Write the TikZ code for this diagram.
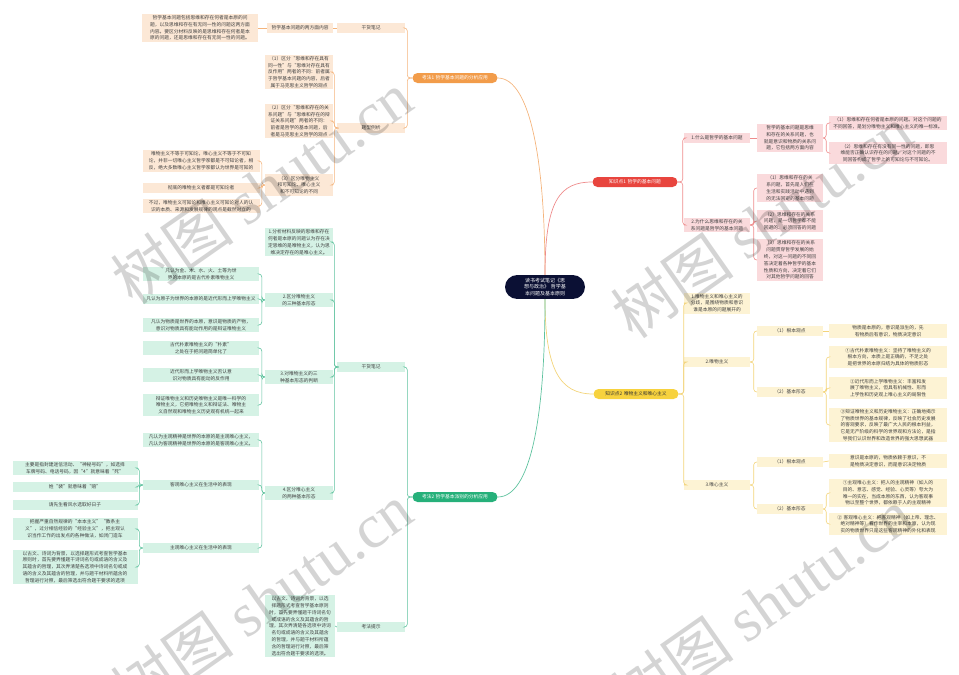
\documentclass[tikz,border=0pt]{standalone}
\usepackage{fontspec}
\setmainfont{Noto Sans CJK SC}
\newfontfamily\wmfont{Liberation Serif}
\XeTeXlinebreaklocale "zh"
\XeTeXlinebreakskip = 0pt

\definecolor{rootfill}{HTML}{0B1034}
\definecolor{orgfill}{HTML}{F29C4A}
\definecolor{orgleaf}{HTML}{FCE8D6}
\definecolor{orgline}{HTML}{F4B47C}
\definecolor{redfill}{HTML}{E8453E}
\definecolor{redleaf}{HTML}{FADADC}
\definecolor{redline}{HTML}{EE8C8C}
\definecolor{yelfill}{HTML}{F7D23E}
\definecolor{yelleaf}{HTML}{FDF3D4}
\definecolor{yelline}{HTML}{F3D47A}
\definecolor{grnfill}{HTML}{26B07A}
\definecolor{grnleaf}{HTML}{D5F2E5}
\definecolor{grnline}{HTML}{5EC29E}

\tikzset{
  leaf/.style={inner xsep=2.5pt, inner ysep=1.5pt, align=center, minimum height=10pt,
    font=\fontsize{4.75}{6.8}\selectfont, text=black!75},
  oleaf/.style={leaf, fill=orgleaf, text width=#1},
  rleaf/.style={leaf, fill=redleaf, text width=#1},
  yleaf/.style={leaf, fill=yelleaf, text width=#1},
  gleaf/.style={leaf, fill=grnleaf, text width=#1},
  topic/.style={leaf, rounded corners=5pt, text width=80pt, text=white},
  oline/.style={draw=orgline, line width=0.6pt, rounded corners=3pt},
  rline/.style={draw=redline, line width=0.6pt, rounded corners=3pt},
  yline/.style={draw=yelline, line width=0.6pt, rounded corners=3pt},
  gline/.style={draw=grnline, line width=0.6pt, rounded corners=3pt},
  wm/.style={text=black, text opacity=0.17, font=\fontsize{62}{62}\selectfont, rotate=35}
}

\begin{document}
\begin{tikzpicture}[x=1pt,y=-1pt]
\useasboundingbox (0,0) rectangle (959,675);

% centre
\node[fill=rootfill, rounded corners=12pt, text=white, align=center, text width=58pt,
  inner xsep=11pt, inner ysep=3pt, font=\fontsize{5}{6.6}\selectfont] (root) at (545,287)
  {读书考试笔记《思想与政治》 哲学基本问题及基本原则};

% main topics
\node[topic, fill=orgfill] (kf1) at (455,78) {考法1 哲学基本问题的分析应用};
\node[topic, fill=redfill] (zs1) at (635,182) {知识点1 哲学的基本问题};
\node[topic, fill=yelfill, text=black!80] (zs2) at (636,394) {知识点2 唯物主义和唯心主义};
\node[topic, fill=grnfill] (kf2) at (455,497) {考法2 哲学基本派别的分析应用};

\draw[orgline, line width=0.7pt] (root.north) .. controls (545,160) and (530,78) .. (kf1.east);
\draw[redline, line width=0.7pt] (root.north) .. controls (545,200) and (560,182) .. (zs1.west);
\draw[yelline, line width=0.7pt] (root.south) .. controls (545,370) and (560,394) .. (zs2.west);
\draw[grnline, line width=0.7pt] (root.south) .. controls (545,420) and (530,497) .. (kf2.east);

% 考法1
\node[oleaf=63pt] (o_gh) at (371,28) {干货笔记};
\node[oleaf=61pt] (o_lf) at (300,28) {哲学基本问题的两方面内容};
\node[oleaf=111pt] (o_lft) at (200,28) {哲学基本问题包括思维和存在何者是本原的问题，以及思维和存在有无同一性的问题这两方面内容。要区分材料反映的是思维和存在何者是本原的问题，还是思维和存在有无同一性的问题。};
\node[oleaf=63pt] (o_tx) at (371,128) {题型例析};
\node[oleaf=63pt] (o_t1) at (299,72) {（1）区分“思维和存在具有同一性”与“思维对存在具有反作用”两者的不同：前者属于哲学基本问题的内容，后者属于马克思主义哲学的观点};
\node[oleaf=63pt] (o_t2) at (299,121) {（2）区分“思维和存在的关系问题”与“思维和存在的辩证关系问题”两者的不同：前者是哲学的基本问题，后者是马克思主义哲学的观点};
\node[oleaf=63pt] (o_t3) at (299,185) {（3）区分唯物主义和可知论、唯心主义和不可知论的不同};
\node[oleaf=112pt] (o_t3a) at (201,161) {唯物主义不等于可知论，唯心主义不等于不可知论，并非一切唯心主义哲学家都是不可知论者，相反，绝大多数唯心主义哲学家都认为世界是可知的};
\node[oleaf=112pt] (o_t3b) at (201,188) {彻底的唯物主义者都是可知论者};
\node[oleaf=112pt] (o_t3c) at (201,206) {不过，唯物主义可知论和唯心主义可知论对人的认识的本质、来源和发展规律的观点是截然对立的};

\draw[oline] (kf1.west) -- ++(-5,0) |- (o_gh.east);
\draw[oline] (kf1.west) -- ++(-5,0) |- (o_tx.east);
\draw[oline] (o_gh.west) -- (o_lf.east);
\draw[oline] (o_lf.west) -- (o_lft.east);
\draw[oline] (o_tx.west) -- ++(-2.5,0) |- (o_t1.east);
\draw[oline] (o_tx.west) -- ++(-2.5,0) |- (o_t2.east);
\draw[oline] (o_tx.west) -- ++(-2.5,0) |- (o_t3.east);
\draw[oline] (o_t3.west) -- ++(-3,0) |- (o_t3a.east);
\draw[oline] (o_t3.west) -- ++(-3,0) |- (o_t3b.east);
\draw[oline] (o_t3.west) -- ++(-3,0) |- (o_t3c.east);

% 知识点1
\node[rleaf=61pt] (r1) at (717,138) {1.什么是哲学的基本问题};
\node[rleaf=61pt] (r1a) at (790,138) {哲学的基本问题是思维和存在的关系问题，也就是意识和物质的关系问题，它包括两方面内容};
\node[rleaf=113pt] (r1a1) at (888,123) {（1）思维和存在何者是本原的问题。对这个问题的不同回答，是划分唯物主义和唯心主义的唯一标准。};
\node[rleaf=113pt] (r1a2) at (888,153) {（2）思维和存在有没有同一性的问题，即思维能否正确认识存在的问题。对这个问题的不同回答构成了哲学上的可知论与不可知论。};
\node[rleaf=61pt] (r2) at (717,225) {2.为什么思维和存在的关系问题是哲学的基本问题};
\node[rleaf=61pt] (r2a) at (790,188) {（1）思维和存在的关系问题，首先是人们在生活和实践活动中遇到的无法回避的基本问题};
\node[rleaf=61pt] (r2b) at (790,221) {（2）思维和存在的关系问题，是一切哲学都不能回避的、必须回答的问题};
\node[rleaf=61pt] (r2c) at (790,260) {（3）思维和存在的关系问题贯穿哲学发展的始终，对这一问题的不同回答决定着各种哲学的基本性质和方向，决定着它们对其他哲学问题的回答};

\draw[rline] (zs1.east) -- ++(5,0) |- (r1.west);
\draw[rline] (zs1.east) -- ++(5,0) |- (r2.west);
\draw[rline] (r1.east) -- (r1a.west);
\draw[rline] (r1a.east) -- ++(3,0) |- (r1a1.west);
\draw[rline] (r1a.east) -- ++(3,0) |- (r1a2.west);
\draw[rline] (r2.east) -- ++(3.5,0) |- (r2a.west);
\draw[rline] (r2.east) -- ++(3.5,0) |- (r2b.west);
\draw[rline] (r2.east) -- ++(3.5,0) |- (r2c.west);

% 知识点2
\node[yleaf=61pt] (y1) at (717,303) {1.唯物主义和唯心主义的分歧，是围绕物质和意识谁是本原的问题展开的};
\node[yleaf=61pt] (y2) at (717,362) {2.唯物主义};
\node[yleaf=61pt] (y3) at (717,485) {3.唯心主义};
\node[yleaf=61pt] (y2a) at (790,331) {（1）根本观点};
\node[yleaf=61pt] (y2b) at (790,392) {（2）基本形态};
\node[yleaf=113pt] (y2a1) at (888,331) {物质是本原的，意识是派生的，先有物质后有意识，物质决定意识};
\node[yleaf=113pt] (y2b1) at (888,357) {①古代朴素唯物主义：坚持了唯物主义的根本方向，本质上是正确的，不足之处是把世界的本原归结为具体的物质形态};
\node[yleaf=113pt] (y2b2) at (888,388) {②近代形而上学唯物主义：丰富和发展了唯物主义，但具有机械性、形而上学性和历史观上唯心主义的局限性};
\node[yleaf=113pt] (y2b3) at (888,425) {③辩证唯物主义和历史唯物主义：正确地揭示了物质世界的基本规律，反映了社会历史发展的客观要求，反映了最广大人民的根本利益，它是无产阶级的科学的世界观和方法论，是指导我们认识世界和改造世界的强大思想武器};
\node[yleaf=61pt] (y3a) at (790,462) {（1）根本观点};
\node[yleaf=61pt] (y3b) at (790,509) {（2）基本形态};
\node[yleaf=113pt] (y3a1) at (888,461) {意识是本原的，物质依赖于意识，不是物质决定意识，而是意识决定物质};
\node[yleaf=113pt] (y3b1) at (888,493) {①主观唯心主义：把人的主观精神（如人的目的、意志、感觉、经验、心灵等）夸大为唯一的实在，当成本原的东西，认为客观事物以至整个世界，都依赖于人的主观精神};
\node[yleaf=113pt] (y3b2) at (888,524) {② 客观唯心主义：把客观精神（如上帝、理念、绝对精神等）看作世界的主宰和本原，认为现实的物质世界只是这些客观精神的外化和表现};

\draw[yline] (zs2.east) -- ++(5,0) |- (y1.west);
\draw[yline] (zs2.east) -- ++(5,0) |- (y2.west);
\draw[yline] (zs2.east) -- ++(5,0) |- (y3.west);
\draw[yline] (y2.east) -- ++(3.5,0) |- (y2a.west);
\draw[yline] (y2.east) -- ++(3.5,0) |- (y2b.west);
\draw[yline] (y2a.east) -- (y2a1.west);
\draw[yline] (y2b.east) -- ++(3,0) |- (y2b1.west);
\draw[yline] (y2b.east) -- ++(3,0) |- (y2b2.west);
\draw[yline] (y2b.east) -- ++(3,0) |- (y2b3.west);
\draw[yline] (y3.east) -- ++(3.5,0) |- (y3a.west);
\draw[yline] (y3.east) -- ++(3.5,0) |- (y3b.west);
\draw[yline] (y3a.east) -- (y3a1.west);
\draw[yline] (y3b.east) -- ++(3,0) |- (y3b1.west);
\draw[yline] (y3b.east) -- ++(3,0) |- (y3b2.west);

% 考法2
\node[gleaf=63pt] (g_gh) at (371,367) {干货笔记};
\node[gleaf=63pt] (g_ts) at (371,627) {考法提示};
\node[gleaf=63pt] (g1) at (299,242) {1.分析材料反映的思维和存在何者是本原的问题认为存在决定思维的是唯物主义，认为思维决定存在的是唯心主义。};
\node[gleaf=63pt] (g2) at (299,300) {2.区分唯物主义的三种基本形态};
\node[gleaf=63pt] (g3) at (299,377) {3.对唯物主义的三种基本形态的判断};
\node[gleaf=63pt] (g4) at (299,493) {4.区分唯心主义的两种基本形态};
\node[gleaf=111pt] (g2a) at (201,274) {凡认为金、木、水、火、土等为世界的本原的是古代朴素唯物主义};
\node[gleaf=111pt] (g2b) at (201,299) {凡认为原子为世界的本原的是近代形而上学唯物主义};
\node[gleaf=111pt] (g2c) at (201,325) {凡认为物质是世界的本原，意识是物质的产物，意识对物质具有能动作用的是辩证唯物主义};
\node[gleaf=111pt] (g3a) at (201,348) {古代朴素唯物主义的“朴素”之处在于把问题简单化了};
\node[gleaf=111pt] (g3b) at (201,375) {近代形而上学唯物主义否认意识对物质具有能动的反作用};
\node[gleaf=111pt] (g3c) at (201,405) {辩证唯物主义和历史唯物主义是唯一科学的唯物主义，它把唯物主义和辩证法、唯物主义自然观和唯物主义历史观有机统一起来};
\node[gleaf=111pt] (g4a) at (201,440) {凡认为主观精神是世界的本原的是主观唯心主义，凡认为客观精神是世界的本原的是客观唯心主义。};
\node[gleaf=111pt] (g4b) at (201,485) {客观唯心主义在生活中的表现};
\node[gleaf=111pt] (g4c) at (201,548) {主观唯心主义在生活中的表现};
\node[gleaf=120pt] (g4b1) at (75,468) {主要是指封建迷信活动、“神秘号码”，如选择车牌号码、电话号码，因“4”就意味着“死”};
\node[gleaf=120pt] (g4b2) at (75,487) {姓“裴”就意味着“赔”};
\node[gleaf=120pt] (g4b3) at (75,505) {请先生看风水选取好日子};
\node[gleaf=120pt] (g4c1) at (75,529) {把握严重自然规律的“本本主义”“教条主义”，过分相信经验的“经验主义”，把主观认识当作工作的出发点的各种做法，如闭门造车};
\node[gleaf=120pt] (g4c2) at (75,567) {以古文、诗词为背景，以选择题形式考查哲学基本原则时，首先要弄懂题干诗词名句或成语的含义及其蕴含的哲理，其次弄清楚各选项中诗词名句或成语的含义及其蕴含的哲理，并与题干材料所蕴含的哲理进行对照，最后筛选出符合题干要求的选项};
\node[gleaf=65pt] (g_ts1) at (300,626) {以古文、诗词为背景，以选择题形式考查哲学基本原则时，首先要弄懂题干诗词名句或成语的含义及其蕴含的哲理，其次弄清楚各选项中诗词名句或成语的含义及其蕴含的哲理，并与题干材料所蕴含的哲理进行对照，最后筛选出符合题干要求的选项。};

\draw[gline] (kf2.west) -- ++(-5,0) |- (g_gh.east);
\draw[gline] (kf2.west) -- ++(-5,0) |- (g_ts.east);
\draw[gline] (g_ts.west) -- (g_ts1.east);
\draw[gline] (g_gh.west) -- ++(-2.5,0) |- (g1.east);
\draw[gline] (g_gh.west) -- ++(-2.5,0) |- (g2.east);
\draw[gline] (g_gh.west) -- ++(-2.5,0) |- (g3.east);
\draw[gline] (g_gh.west) -- ++(-2.5,0) |- (g4.east);
\draw[gline] (g2.west) -- ++(-3,0) |- (g2a.east);
\draw[gline] (g2.west) -- ++(-3,0) |- (g2b.east);
\draw[gline] (g2.west) -- ++(-3,0) |- (g2c.east);
\draw[gline] (g3.west) -- ++(-3,0) |- (g3a.east);
\draw[gline] (g3.west) -- ++(-3,0) |- (g3b.east);
\draw[gline] (g3.west) -- ++(-3,0) |- (g3c.east);
\draw[gline] (g4.west) -- ++(-3,0) |- (g4a.east);
\draw[gline] (g4.west) -- ++(-3,0) |- (g4b.east);
\draw[gline] (g4.west) -- ++(-3,0) |- (g4c.east);
\draw[gline] (g4b.west) -- ++(-3.5,0) |- (g4b1.east);
\draw[gline] (g4b.west) -- ++(-3.5,0) |- (g4b2.east);
\draw[gline] (g4b.west) -- ++(-3.5,0) |- (g4b3.east);
\draw[gline] (g4c.west) -- ++(-3.5,0) |- (g4c1.east);
\draw[gline] (g4c.west) -- ++(-3.5,0) |- (g4c2.east);

% watermark
\node[wm] (wm1) at (262,188) {树图 {\wmfont shutu.cn}};
\node[wm] (wm2) at (762,222) {树图 {\wmfont shutu.cn}};
\node[wm] (wm3) at (262,600) {树图 {\wmfont shutu.cn}};
\node[wm] (wm4) at (762,605) {树图 {\wmfont shutu.cn}};
\end{tikzpicture}
\end{document}
